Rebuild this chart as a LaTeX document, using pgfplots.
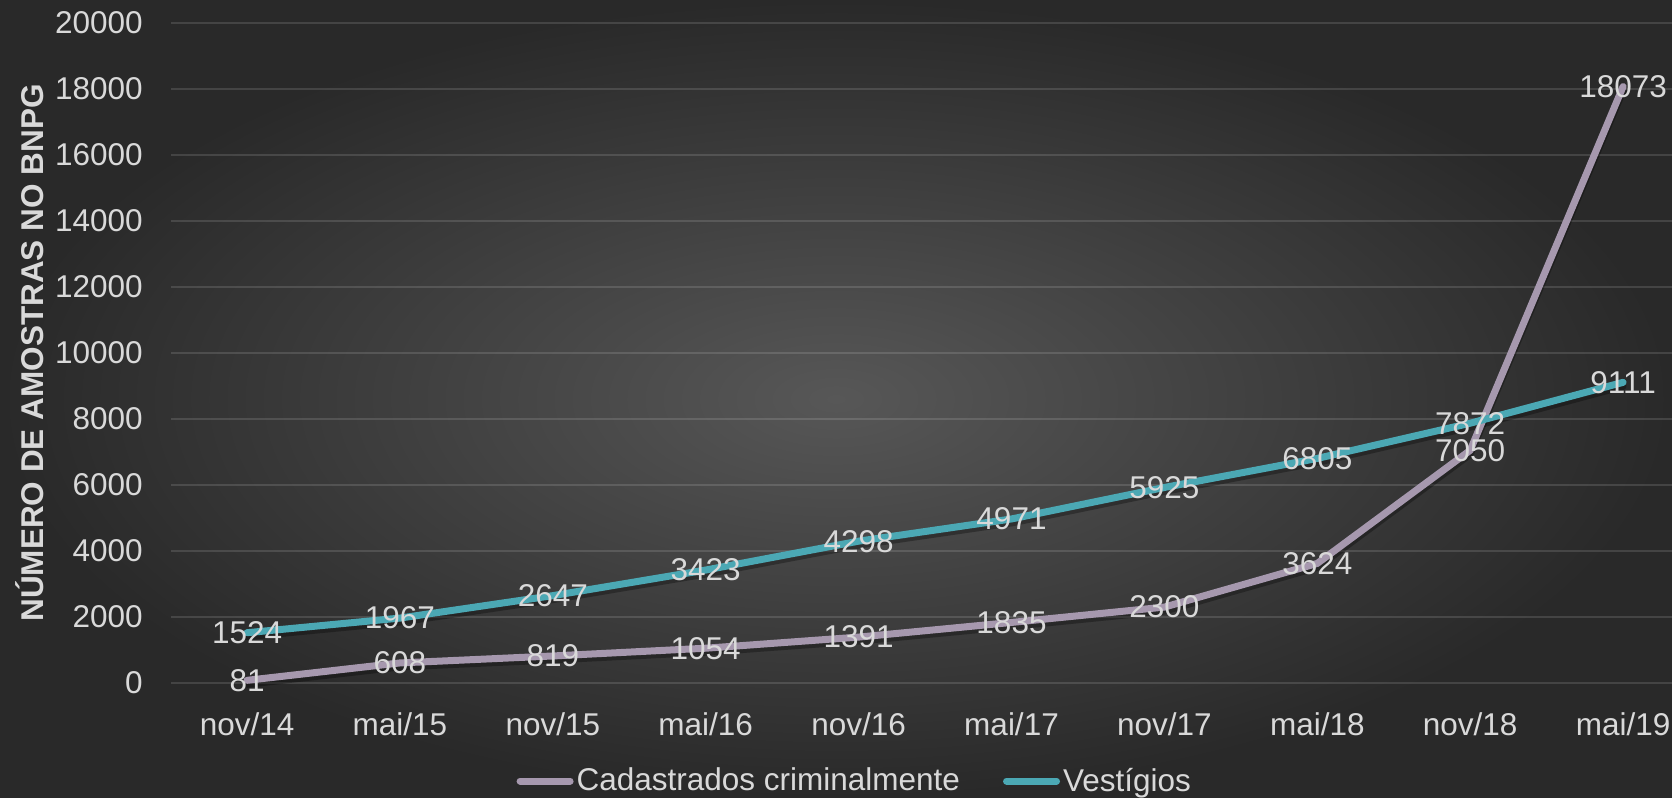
\documentclass[border=0pt]{standalone}
\usepackage{fontspec}
\setmainfont{Liberation Sans}
\usepackage{pgfplots}
\usepackage{pgfplotstable}
\pgfplotsset{compat=1.18}

\definecolor{bgin}{HTML}{575757}
\definecolor{bgout}{HTML}{292929}
\definecolor{crim}{HTML}{A698AE}
\definecolor{vest}{HTML}{4BA8B4}
\definecolor{txt}{HTML}{D9D9D9}

% amostras por semestre
\pgfplotstableread{
x crim vest
0 81 1524
1 608 1967
2 819 2647
3 1054 3423
4 1391 4298
5 1835 4971
6 2300 5925
7 3624 6805
8 7050 7872
9 18073 9111
}\amostras

\newcommand{\lbl}{\fontsize{15.75pt}{18pt}\selectfont}

\begin{document}
\begin{tikzpicture}
\fill[inner color=bgin, outer color=bgout] (0,0) rectangle (836pt,399pt);
\useasboundingbox (0,0) rectangle (836pt,399pt);
\begin{axis}[
    at={(85.3pt,57.5pt)}, anchor=south west,
    scale only axis, width=750.7pt, height=330pt,
    xmin=-0.5, xmax=9.32, ymin=0, ymax=20000,
    clip=false,
    axis line style={draw=none},
    tick style={draw=none},
    major tick length=0pt,
    ymajorgrids,
    major grid style={white, opacity=0.13, line width=0.75pt},
    ytick={0,2000,...,20000},
    xtick={0,...,9},
    xticklabels={nov/14,mai/15,nov/15,mai/16,nov/16,mai/17,nov/17,mai/18,nov/18,mai/19},
    scaled y ticks=false,
    /pgf/number format/assume math mode=true,
    /pgf/number format/1000 sep={},
    tick label style={font=\lbl, text=txt, inner sep=0pt},
    xticklabel style={yshift=-14.5pt},
    yticklabel style={xshift=-13.8pt},
    ylabel={NÚMERO DE AMOSTRAS NO BNPG},
    ylabel style={font=\lbl\bfseries, text=txt, at={(axis description cs:-0.0937,0.5)}, anchor=center},
    legend style={at={(axis description cs:0.456,-0.1485)}, anchor=center,
        draw=none, fill=none, font=\lbl, text=txt, legend columns=2,
        /tikz/every even column/.append style={column sep=20pt},
        nodes={inner sep=1.5pt}},
    legend image code/.code={\draw[#1] (0pt,0pt) -- (25pt,0pt);},
    ]
% sombras
\addplot[black, opacity=0.3, line width=3.5pt, line join=round, line cap=round, yshift=-2pt, forget plot]
    table[x=x, y=crim]{\amostras};
\addplot[black, opacity=0.3, line width=3.5pt, line join=round, line cap=round, yshift=-2pt, forget plot]
    table[x=x, y=vest]{\amostras};
% linhas
\addplot[crim, line width=3.5pt, line join=round, line cap=round]
    table[x=x, y=crim]{\amostras};
\addlegendentry{Cadastrados criminalmente}
\addplot[vest, line width=3.5pt, line join=round, line cap=round]
    table[x=x, y=vest]{\amostras};
\addlegendentry{Vestígios}
% rótulos
\addplot[draw=none, forget plot, nodes near coords,
    every node near coord/.append style={anchor=center, font=\lbl, text=txt, inner sep=0pt}]
    table[x=x, y=crim]{\amostras};
\addplot[draw=none, forget plot, nodes near coords,
    every node near coord/.append style={anchor=center, font=\lbl, text=txt, inner sep=0pt}]
    table[x=x, y=vest]{\amostras};
\end{axis}
\end{tikzpicture}
\end{document}
